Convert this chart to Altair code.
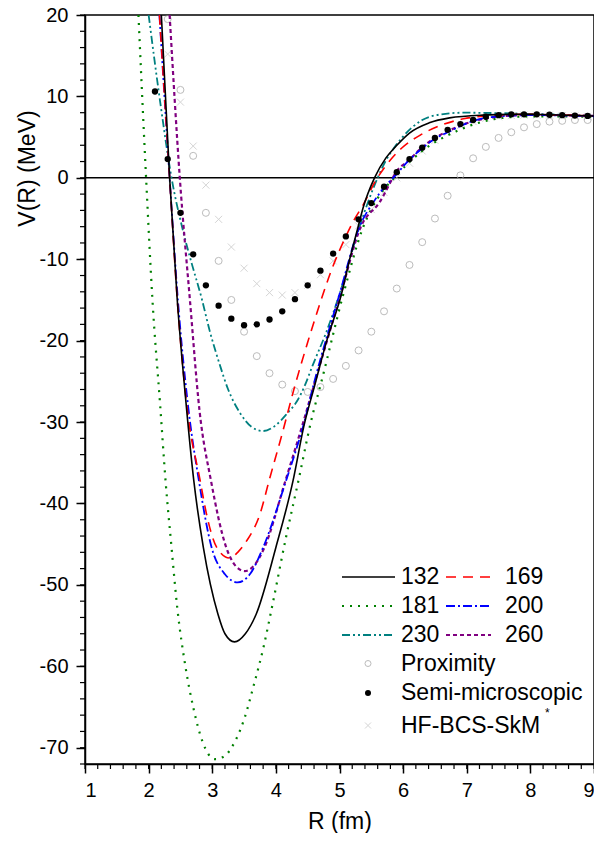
import altair as alt
import pandas as pd
import numpy as np

FONT = "Liberation Sans"

# ---------------- data ----------------
r_132 = [2.20, 2.33, 2.45, 2.58, 2.71, 2.86, 3.09, 3.20, 3.35, 3.52, 3.69, 4.00, 4.27, 4.44, 4.61, 4.80, 5.03, 5.16, 5.29, 5.37, 5.55, 5.73, 5.89, 6.10, 6.41, 6.73, 7.25, 7.80, 8.30, 9.00]
v_132 = [20.0, 0.0, -15.0, -27.0, -37.2, -45.4, -53.6, -56.0, -57.0, -56.0, -53.6, -45.4, -37.2, -30.5, -25.5, -20.0, -14.3, -10.0, -6.1, -3.7, 0.0, 2.45, 3.9, 5.5, 6.75, 7.36, 7.7, 7.8, 7.75, 7.6]

r_169 = [2.17, 2.33, 2.45, 2.60, 2.81, 2.91, 3.07, 3.27, 3.40, 3.54, 3.75, 3.90, 4.10, 4.29, 4.50, 4.69, 4.88, 5.10, 5.22, 5.38, 5.55, 5.71, 5.97, 6.28, 6.61, 6.95, 7.23, 7.60, 8.00, 8.50, 9.00]
v_169 = [20.0, 0.0, -15.0, -28.0, -37.2, -41.3, -45.4, -46.7, -46.0, -44.6, -41.3, -37.0, -31.4, -25.8, -20.2, -15.5, -11.2, -7.2, -5.3, -3.2, -0.6, 1.3, 3.6, 5.3, 6.5, 7.25, 7.55, 7.75, 7.8, 7.7, 7.6]

r_181 = [1.84, 1.96, 2.06, 2.18, 2.27, 2.36, 2.45, 2.58, 2.70, 2.84, 3.04, 3.20, 3.31, 3.51, 3.65, 3.81, 3.95, 4.15, 4.36, 4.55, 4.72, 5.06, 5.37, 5.60, 5.86, 6.30, 6.83, 7.56, 8.00, 8.50, 9.00]
v_181 = [20.0, 0.0, -15.0, -27.8, -37.6, -45.4, -52.8, -60.1, -65.0, -69.1, -71.4, -71.0, -69.9, -66.3, -62.4, -57.5, -52.3, -44.5, -37.0, -30.0, -24.9, -14.3, -6.1, -2.5, 0.0, 3.3, 5.7, 7.36, 7.55, 7.55, 7.5]

r_200 = [2.17, 2.33, 2.46, 2.62, 2.79, 2.99, 3.20, 3.40, 3.60, 3.80, 4.16, 4.45, 4.61, 5.00, 5.31, 5.55, 5.72, 5.88, 6.07, 6.25, 6.50, 6.73, 7.00, 7.30, 7.60, 8.00, 8.50, 9.00]
v_200 = [20.0, 0.0, -15.0, -28.0, -37.2, -45.4, -48.7, -49.7, -48.6, -45.4, -37.2, -29.9, -24.9, -14.3, -6.1, -2.8, -1.0, 0.3, 2.0, 3.3, 4.8, 5.7, 6.7, 7.36, 7.6, 7.7, 7.65, 7.55]

r_230 = [2.00, 2.18, 2.36, 2.54, 2.68, 2.83, 2.96, 3.12, 3.25, 3.43, 3.62, 3.80, 3.98, 4.17, 4.35, 4.45, 4.58, 4.79, 5.00, 5.31, 5.60, 5.72, 5.85, 5.99, 6.30, 6.60, 6.93, 7.50, 8.00, 8.50, 9.00]
v_230 = [20.0, 9.4, 0.0, -6.5, -10.6, -14.7, -18.8, -23.0, -26.0, -28.8, -30.6, -31.1, -30.5, -29.0, -27.2, -25.6, -23.0, -19.0, -14.3, -6.1, 0.0, 2.0, 3.6, 5.0, 7.1, 7.8, 8.0, 7.95, 7.85, 7.75, 7.6]

r_260 = [2.33, 2.49, 2.65, 2.80, 2.98, 3.22, 3.36, 3.51, 3.66, 3.82, 4.15, 4.45, 4.62, 5.02, 5.33, 5.63, 5.94, 6.07, 6.25, 6.50, 6.75, 7.00, 7.30, 7.60, 8.00, 8.50, 9.00]
v_260 = [20.0, 0.0, -15.1, -28.6, -37.2, -45.4, -47.6, -48.3, -47.6, -45.4, -37.2, -29.5, -24.9, -14.3, -6.1, -3.0, 1.2, 2.0, 3.4, 4.9, 5.9, 6.7, 7.3, 7.6, 7.75, 7.7, 7.6]

semi_r = [2.1, 2.3, 2.5, 2.7, 2.9, 3.1, 3.3, 3.5, 3.7, 3.9, 4.1, 4.3, 4.5, 4.7, 4.9, 5.1, 5.3, 5.5, 5.7, 5.9, 6.1, 6.3, 6.5, 6.7, 6.9, 7.1, 7.3, 7.5, 7.7, 7.9, 8.1, 8.3, 8.5, 8.7, 8.9]
semi_v = [10.6, 2.3, -4.3, -9.4, -13.2, -15.7, -17.3, -18.1, -18.0, -17.4, -16.4, -14.9, -13.2, -11.4, -9.3, -7.2, -5.1, -3.1, -1.1, 0.7, 2.3, 3.7, 4.9, 5.9, 6.6, 7.1, 7.5, 7.7, 7.8, 7.8, 7.8, 7.75, 7.7, 7.65, 7.6]

prox_r = [2.3, 2.5, 2.7, 2.9, 3.1, 3.3, 3.5, 3.7, 3.9, 4.1, 4.3, 4.5, 4.7, 4.9, 5.1, 5.3, 5.5, 5.7, 5.9, 6.1, 6.3, 6.5, 6.7, 6.9, 7.1, 7.3, 7.5, 7.7, 7.9, 8.1, 8.3, 8.5, 8.7, 8.9]
prox_v = [19.5, 10.8, 2.7, -4.3, -10.2, -15.0, -18.9, -21.9, -24.0, -25.4, -26.2, -26.3, -25.7, -24.7, -23.1, -21.2, -18.9, -16.4, -13.6, -10.7, -7.9, -5.0, -2.2, 0.3, 2.4, 3.8, 4.9, 5.6, 6.2, 6.6, 6.9, 7.0, 7.1, 7.1]

hf_r = [2.3, 2.5, 2.7, 2.9, 3.1, 3.3, 3.5, 3.7, 3.9, 4.1, 4.3, 4.5, 4.7, 4.9, 5.1, 5.3, 5.5, 5.7, 5.9, 6.1, 6.3, 6.5, 6.7, 6.9, 7.1, 7.3, 7.5, 7.7, 7.9, 8.1, 8.3, 8.5, 8.7, 8.9]
hf_v = [15.2, 9.3, 3.9, -0.9, -5.1, -8.5, -11.1, -13.0, -14.1, -14.4, -14.1, -13.2, -11.9, -10.2, -8.2, -5.9, -3.9, -1.8, 0.0, 1.8, 3.3, 4.6, 5.6, 6.4, 6.9, 7.3, 7.5, 7.65, 7.7, 7.7, 7.7, 7.65, 7.6, 7.55]

x_major = [1, 2, 3, 4, 5, 6, 7, 8, 9]
y_major = [-70, -60, -50, -40, -30, -20, -10, 0, 10, 20]
x_minor = [round(v, 1) for v in np.arange(1.0, 9.01, 0.2)]
y_minor = list(range(-72, 21, 2))

# ---------------- layout ----------------
W, H = 509, 749
xs = alt.Scale(domain=[1, 9], nice=False, zero=False)
ys = alt.Scale(domain=[-72, 20], nice=False, zero=False)

xaxis = alt.Axis(values=x_major, title="R (fm)", grid=False, tickSize=9, tickWidth=1.5,
                 tickColor="black", domainColor="black", domainWidth=1.5,
                 labelFont=FONT, labelFontSize=20, labelColor="black", labelPadding=7,
                 titleFont=FONT, titleFontSize=23, titleFontWeight="normal", titleColor="black",
                 titleY=57, titleBaseline="middle")
yaxis = alt.Axis(values=y_major, title="V(R) (MeV)", grid=False, tickSize=9, tickWidth=1.5,
                 tickColor="black", domainColor="black", domainWidth=1.5,
                 labelFont=FONT, labelFontSize=20, labelColor="black", labelPadding=8,
                 labelExpr="'' + datum.value",
                 titleFont=FONT, titleFontSize=23, titleFontWeight="normal", titleColor="black",
                 titleX=-58, titleY=153, titleAngle=270, titleAlign="center", titleBaseline="middle")

X = alt.X("R:Q", scale=xs, axis=xaxis)
Y = alt.Y("V:Q", scale=ys, axis=yaxis)


def df(r, v):
    return pd.DataFrame({"R": r, "V": v})


def curve(r, v, color, width, dash=None):
    kw = dict(color=color, strokeWidth=width, clip=True, interpolate="monotone")
    if dash is not None:
        kw["strokeDash"] = dash
    return alt.Chart(df(r, v)).mark_line(**kw).encode(x=X, y=Y)


layers = []
# minor ticks
layers.append(alt.Chart(pd.DataFrame({"R": x_minor})).mark_rule(color="black", strokeWidth=1.2)
              .encode(x=X, y=alt.value(H), y2=alt.value(H + 5)))
layers.append(alt.Chart(pd.DataFrame({"V": y_minor})).mark_rule(color="black", strokeWidth=1.2)
              .encode(y=Y, x=alt.value(-5), x2=alt.value(0)))
# zero line
layers.append(alt.Chart(pd.DataFrame({"V": [0]})).mark_rule(color="black", strokeWidth=1.5).encode(y=Y))

XSHAPE = "M-1,-1L1,1M-1,1L1,-1"
layers.append(alt.Chart(df(hf_r, hf_v)).mark_point(shape=XSHAPE, filled=False, color="#c4c4c4",
                                                   size=49, strokeWidth=1, clip=True).encode(x=X, y=Y))
layers.append(alt.Chart(df(prox_r, prox_v)).mark_point(shape="circle", filled=False, color="#a0a0a0",
                                                       size=49, strokeWidth=1, clip=True).encode(x=X, y=Y))

layers.append(curve(r_230, v_230, "#008080", 1.8, [8, 3, 2, 3, 2, 3]))
layers.append(curve(r_181, v_181, "#008000", 2.2, [2, 6]))
layers.append(curve(r_260, v_260, "#800080", 2.2, [4, 3]))
layers.append(curve(r_200, v_200, "#0000ff", 1.8, [9, 3, 2, 3]))
layers.append(curve(r_169, v_169, "#ff0000", 1.6, [10, 7]))
layers.append(curve(r_132, v_132, "black", 1.6))

layers.append(alt.Chart(df(semi_r, semi_v)).mark_circle(color="black", size=40, opacity=1, clip=True)
              .encode(x=X, y=Y))

# ---------------- legend ----------------
one = pd.DataFrame({"k": [0]})


def leg_line(x1, x2, y, color, width, dash=None):
    kw = dict(color=color, strokeWidth=width)
    if dash is not None:
        kw["strokeDash"] = dash
    return alt.Chart(one).mark_rule(**kw).encode(x=alt.value(x1), x2=alt.value(x2), y=alt.value(y))


def leg_text(x, y, s, size=23):
    return alt.Chart(one).mark_text(align="left", baseline="middle", font=FONT, fontSize=size,
                                    color="black").encode(x=alt.value(x), y=alt.value(y), text=alt.value(s))


rows = [562, 591, 620, 648.5, 678, 710.5]
c1a, c1b, t1 = 257, 310, 316
c2a, c2b, t2 = 361, 406, 420
layers += [
    leg_line(c1a, c1b, rows[0], "black", 1.6), leg_text(t1, rows[0], "132"),
    leg_line(c2a, c2b, rows[0], "#ff0000", 1.6, [10, 7]), leg_text(t2, rows[0], "169"),
    leg_line(c1a, c1b, rows[1], "#008000", 2.2, [2, 6]), leg_text(t1, rows[1], "181"),
    leg_line(c2a, c2b, rows[1], "#0000ff", 1.8, [9, 3, 2, 3]), leg_text(t2, rows[1], "200"),
    leg_line(c1a, c1b, rows[2], "#008080", 1.8, [8, 3, 2, 3, 2, 3]), leg_text(t1, rows[2], "230"),
    leg_line(c2a, c2b, rows[2], "#800080", 2.2, [4, 3]), leg_text(t2, rows[2], "260"),
    alt.Chart(one).mark_point(shape="circle", filled=False, color="#a0a0a0", size=36, strokeWidth=1)
    .encode(x=alt.value(283), y=alt.value(rows[3])),
    leg_text(t1, rows[3], "Proximity"),
    alt.Chart(one).mark_circle(color="black", size=36, opacity=1)
    .encode(x=alt.value(283), y=alt.value(rows[4])),
    leg_text(t1, rows[4], "Semi-microscopic"),
    alt.Chart(one).mark_point(shape=XSHAPE, filled=False, color="#c4c4c4", size=36, strokeWidth=1)
    .encode(x=alt.value(283), y=alt.value(rows[5])),
    leg_text(t1, rows[5], "HF-BCS-SkM"),
    leg_text(460, rows[5] - 13, "*", 12),
]

chart = alt.layer(*layers).properties(
    width=W, height=H,
    autosize=alt.AutoSizeParams(type="none"),
    padding={"left": 77, "top": 7, "right": 0, "bottom": 69},
    background="white",
).configure_view(stroke="black", strokeWidth=1.5)

chart.save("out.html", embed_options={"renderer": "svg", "actions": False})
